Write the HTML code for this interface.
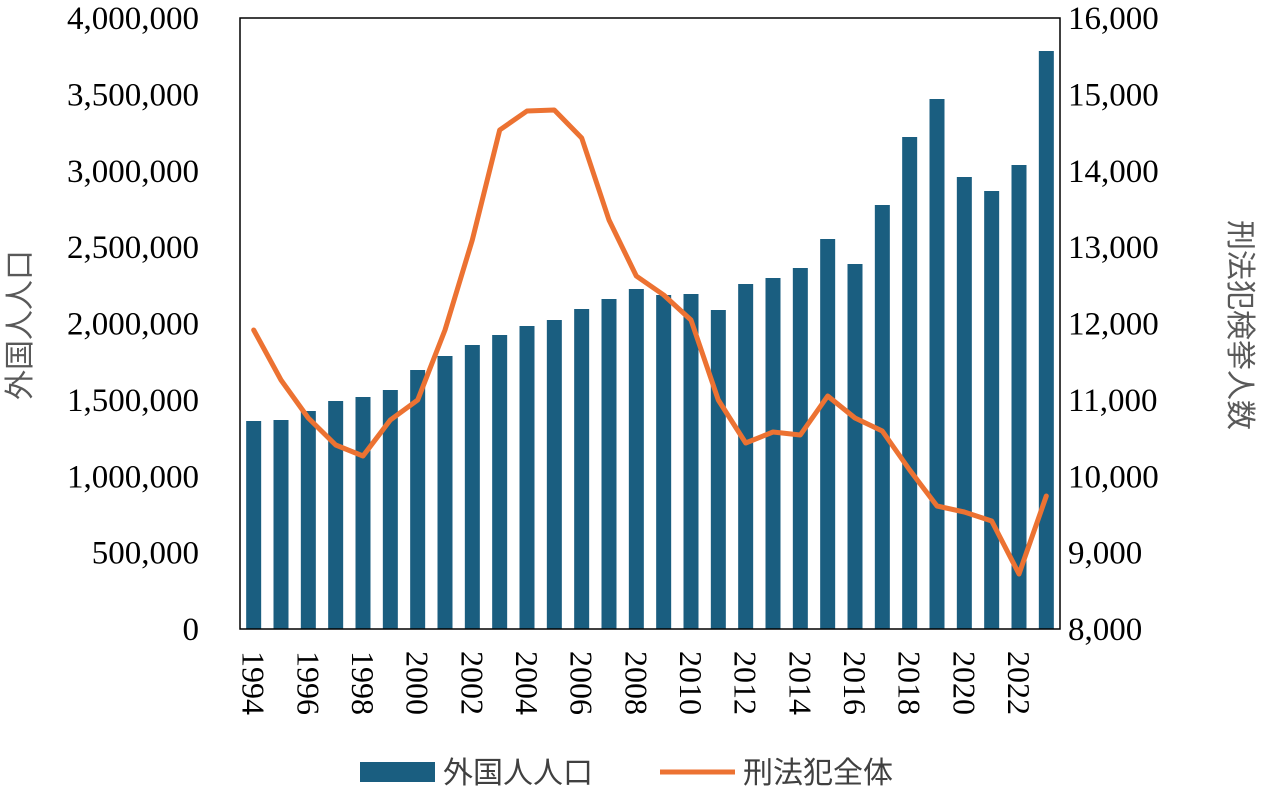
<!DOCTYPE html>
<html><head><meta charset="utf-8"><style>
body{margin:0;background:#fff}
svg text{font-family:"Liberation Serif","Noto Serif CJK SC",serif;fill:#000}
.cjk{font-family:"Liberation Sans","Noto Sans CJK JP",sans-serif!important}
</style></head><body>
<svg id="s" width="1265" height="794" xmlns="http://www.w3.org/2000/svg"></svg>
<script>
const s=document.getElementById('s');let h='';
const L=240,R=1060,T=18,B=629,n=30,w=(R-L)/n;
const tops=[421,420,411,401,397,390,370,356,345,335,326,320,309,299,289,295,294,310,284,278,268,239,264,205,137,99,177,191,165,51];
const ly=[330,380,418,445,456,420,400,330,240,130,111,110,138,220,276,295,320,400,443,432,435,396,418,431,470,506,512,521,574,496];
for(let i=0;i<n;i++){const cx=L+w*(i+0.5);h+=`<rect x="${cx-7.5}" y="${tops[i]}" width="15" height="${B-tops[i]}" fill="#1a5e80"/>`;}
let p=ly.map((y,i)=>`${(L+w*(i+0.5)).toFixed(1)},${y}`).join(' ');
h+=`<polyline points="${p}" fill="none" stroke="#ec7232" stroke-width="5" stroke-linejoin="round" stroke-linecap="round"/>`;
h+=`<rect x="${L}" y="${T}" width="${R-L}" height="${B-T}" fill="none" stroke="#000" stroke-width="1.5"/>`;
const lv=['0','500,000','1,000,000','1,500,000','2,000,000','2,500,000','3,000,000','3,500,000','4,000,000'];
const rv=['8,000','9,000','10,000','11,000','12,000','13,000','14,000','15,000','16,000'];
for(let k=0;k<9;k++){const y=B-k*(B-T)/8;
h+=`<text x="199" y="${y+11}" font-size="33" text-anchor="end">${lv[k]}</text>`;
h+=`<text x="1068" y="${y+11}" font-size="33">${rv[k]}</text>`;}
for(let i=0;i<n;i+=2){const cx=L+w*(i+0.5);
h+=`<text transform="translate(${cx-11},651) rotate(90)" font-size="32">${1994+i}</text>`;}
h+=`<text class="cjk" transform="translate(30,325) rotate(-90)" font-size="30" style="fill:#595959" text-anchor="middle">外国人人口</text>`;
h+=`<text class="cjk" transform="translate(1230,325) rotate(90)" font-size="30" style="fill:#595959" text-anchor="middle">刑法犯検挙人数</text>`;
h+=`<rect x="360" y="762" width="75" height="20" fill="#1a5e80"/>`;
h+=`<text class="cjk" x="443" y="783" font-size="30" style="fill:#404040">外国人人口</text>`;
h+=`<line x1="660" y1="772" x2="735" y2="772" stroke="#ec7232" stroke-width="5"/>`;
h+=`<text class="cjk" x="743" y="783" font-size="30" style="fill:#404040">刑法犯全体</text>`;
s.innerHTML=h;
</script>
</body></html>
